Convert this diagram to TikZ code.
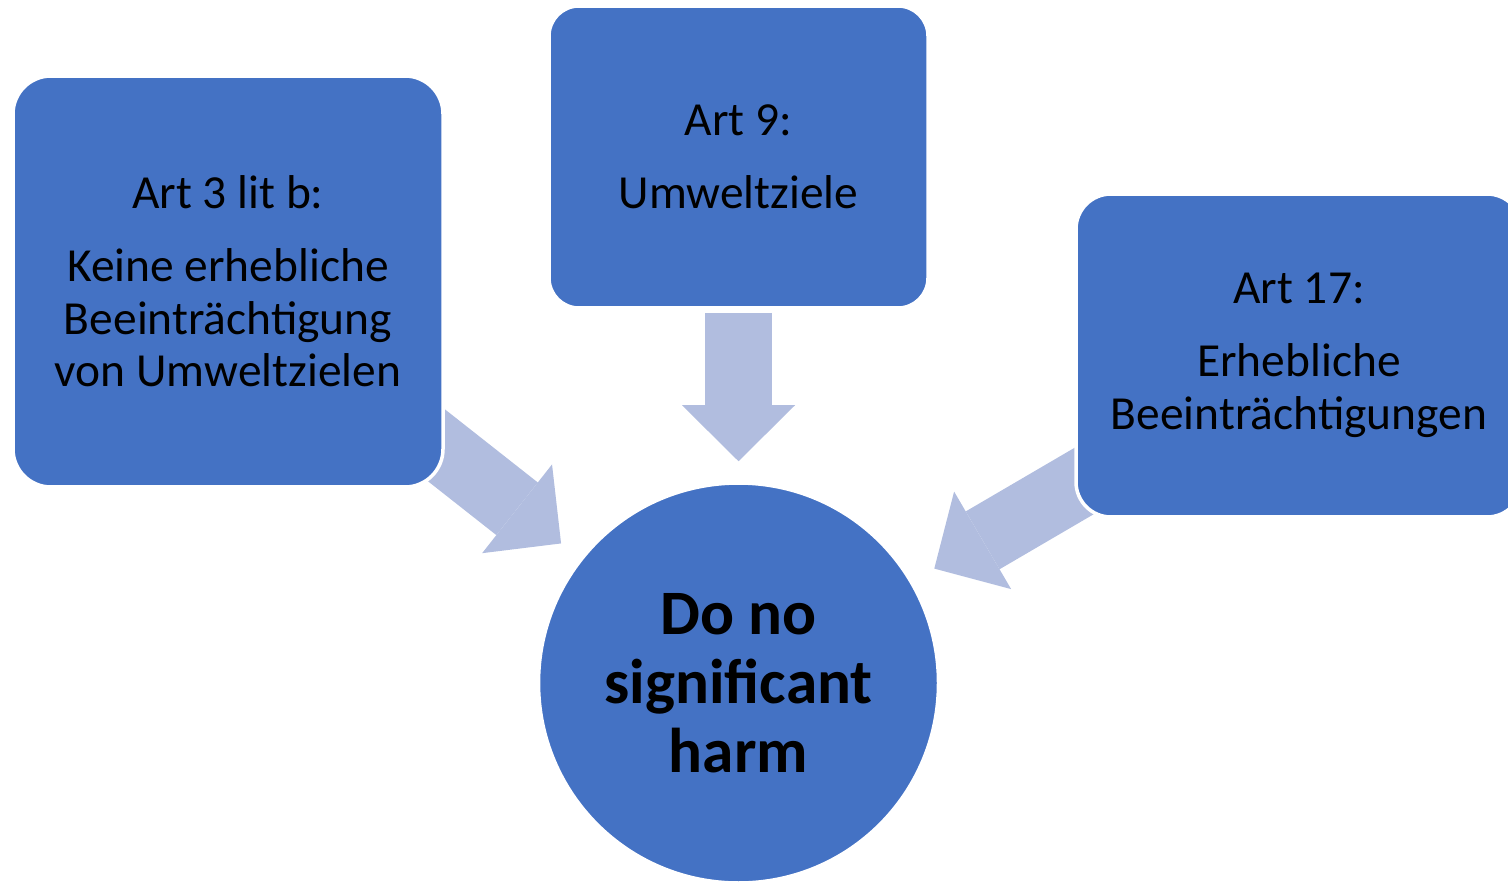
\documentclass[tikz,border=0pt]{standalone}
\usepackage{fontspec}
\setmainfont{Carlito}
\usepackage{tikz}
\usetikzlibrary{arrows.meta, backgrounds}

\definecolor{boxblue}{HTML}{4472C4}
\definecolor{arrowblue}{HTML}{B1BDDF}

\begin{document}
\begin{tikzpicture}[
            > = {Triangle[length=5.6mm, width=11.3mm, line width'=0pt]} % block arrow head
        ]

        \tikzstyle{box}=[
            rectangle,
            draw = white,
            line width = 1pt,
            fill = boxblue,
            align = center,
            inner sep = 0pt,
            font = \fontsize{13.5}{15}\selectfont
        ]
        \tikzstyle{goal}=[
            circle,
            draw = white,
            line width = 1pt,
            fill = boxblue,
            align = center,
            inner sep = 0pt,
            minimum size = 4cm,
            font = \fontsize{18}{19.6}\selectfont\bfseries
        ]
        \tikzstyle{push}=[
            ->,
            line width = 6.7mm, % shaft of the block arrows
            draw = arrowblue
        ]

        \clip (0,0) rectangle (15.08,-8.81);

        \node[box, rounded corners = 3.8mm, minimum width = 4.30cm, minimum height = 4.11cm]
            (art3) at (2.28,-2.815) {Art 3 lit b:\\[0.2cm] Keine erhebliche\\ Beeinträchtigung\\ von Umweltzielen};
        \node[box, rounded corners = 3mm, minimum width = 3.79cm, minimum height = 3.02cm]
            (art9) at (7.385,-1.57) {Art 9:\\[0.2cm] Umweltziele};
        \node[box, rounded corners = 3.5mm, minimum width = 4.46cm, minimum height = 3.23cm]
            (art17) at (12.99,-3.555) {Art 17:\\[0.2cm] Erhebliche\\ Beeinträchtigungen};
        \node[goal] (dnsh) at (7.385,-6.83) {Do no\\ significant\\ harm};

        % arrows sit behind the boxes, so they start inside them
        \begin{pgfonlayer}{background}
            \draw[push, shorten < = -4mm, shorten > = 2.4mm] (art3) -- (dnsh);
            \draw[push, shorten < = 0.3mm, shorten > = 2mm] (art9) -- (dnsh);
            \draw[push, shorten < = -4mm, shorten > = 2.5mm] (art17) -- (dnsh);
        \end{pgfonlayer}

\end{tikzpicture}
\end{document}
